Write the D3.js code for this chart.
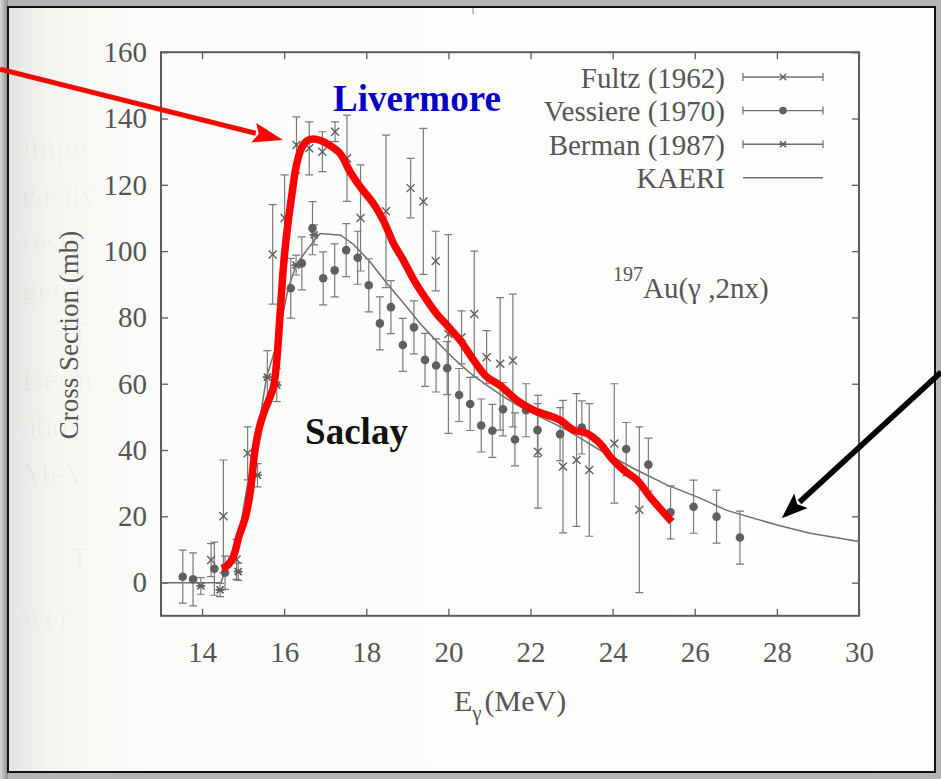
<!DOCTYPE html>
<html>
<head>
<meta charset="utf-8">
<script src="https://cdn.jsdelivr.net/npm/d3@7"></script>
<style>
  html, body { margin: 0; padding: 0; background: #b0b0b0; }
  svg { display: block; }
</style>
</head>
<body>
<svg id="chart" width="941" height="779"></svg>
<script>
// ---- axis ticks ----
const xTicks = [14, 16, 18, 20, 22, 24, 26, 28, 30];
const yTicks = [0, 20, 40, 60, 80, 100, 120, 140, 160];

// ---- measured cross sections: [E (MeV), sigma (mb), error (mb)] ----
const fultz1962 = [
  [14.22, 6.8, 5], [14.52, 20, 17], [14.84, 7, 6], [15.11, 39, 8],
  [15.72, 99, 15], [16.01, 110, 13], [16.30, 132, 8.5], [16.61, 131, 8],
  [16.93, 130, 6], [17.24, 136, 3], [17.53, 128, 13], [17.86, 110, 16],
  [18.48, 112, 23], [19.08, 119, 9], [19.39, 115, 22], [19.69, 97, 9],
  [20.00, 75, 30], [20.32, 74, 8], [20.63, 81, 19], [20.93, 68, 8],
  [21.26, 66, 20], [21.57, 67, 20], [22.18, 39.5, 17], [22.79, 35, 20],
  [23.12, 37, 20], [23.43, 34, 20], [24.04, 42, 18], [24.65, 22, 25]
];
const vessiere1970 = [
  [13.53, 1.8, 8], [13.78, 1.0, 8], [14.30, 4.2, 8], [14.56, 3.0, 5],
  [16.16, 88.8, 9], [16.43, 96.3, 8], [16.69, 106.9, 8], [16.95, 91.8, 8],
  [17.23, 94.2, 8], [17.51, 100.3, 8], [17.79, 98.0, 8], [18.06, 89.7, 8],
  [18.33, 78.2, 8], [18.60, 83.1, 8], [18.89, 71.7, 8], [19.16, 77.0, 8],
  [19.43, 67.2, 8], [19.70, 65.5, 8], [19.97, 64.7, 8], [20.26, 56.6, 8],
  [20.53, 53.9, 8], [20.80, 47.4, 8], [21.07, 45.8, 8], [21.33, 52.3, 8],
  [21.62, 43.2, 8], [21.89, 52.0, 8], [22.17, 46.0, 8], [22.72, 44.8, 8],
  [23.25, 46.8, 8], [24.33, 40.3, 8], [24.87, 35.6, 8], [25.41, 21.2, 8],
  [25.97, 22.9, 8], [26.53, 19.9, 8], [27.10, 13.6, 8]
];
const berman1987 = [
  [13.97, -1.0, 2.5], [14.44, -2.2, 2], [14.88, 3.3, 2.6], [15.35, 32.4, 3.5],
  [15.59, 62, 8], [15.82, 59.6, 5], [16.29, 95.8, 3], [16.73, 104.9, 3]
];

// ---- evaluated curve: [E, sigma] ----
const kaeri = [
  [13.0, 0], [14.46, 0], [14.56, 3.5], [14.84, 10], [15.10, 29], [15.33, 43],
  [15.57, 62], [15.82, 72], [16.10, 89], [16.30, 96], [16.55, 100.3],
  [16.87, 105.3], [17.38, 104.8], [17.69, 102], [18.09, 96.8], [18.50, 90.3],
  [18.91, 84.3], [19.31, 78.2], [19.72, 72.7], [20.12, 67.7], [20.53, 63.2],
  [20.93, 59.6], [21.34, 56.1], [21.74, 53.1], [22.06, 51.1], [22.88, 46.1],
  [23.69, 40.0], [24.50, 34.5], [25.32, 29.5], [26.13, 25.5], [26.78, 21.8],
  [28.0, 17.4], [28.81, 14.9], [30.0, 12.4]
];

// ---- Livermore overlay curve: [E, sigma] ----
const livermore = [
  [14.48, 4.3], [14.60, 5.0], [14.76, 7.8], [14.90, 14], [15.05, 19.5],
  [15.17, 27], [15.29, 40], [15.40, 47], [15.50, 51], [15.64, 55.5],
  [15.74, 59], [15.82, 67], [15.90, 81], [15.98, 95], [16.06, 105],
  [16.18, 116.4], [16.30, 126], [16.42, 131], [16.55, 133.2], [16.70, 133.8],
  [16.90, 133.3], [17.10, 132], [17.36, 129.5], [17.60, 124], [17.85, 119.4],
  [18.17, 114.4], [18.41, 109.4], [18.66, 102.4], [18.90, 97.3], [19.15, 91.5],
  [19.47, 85.3], [19.72, 81], [19.96, 77.7], [20.28, 73.2], [20.61, 67.2],
  [20.93, 62.1], [21.26, 59.5], [21.66, 55.1], [22.06, 52.1], [22.71, 49.1],
  [23.04, 46.1], [23.36, 45.1], [23.69, 42.0], [23.94, 38.0], [24.26, 34.0],
  [24.59, 31.0], [24.91, 25.9], [25.44, 18.4]
];

// ---- annotation arrows: [tailE, tailSigma, tipE, tipSigma] ----
const redArrow = [9.08, 154.9, 15.97, 133.5];
const blackArrow = [32.0, 63.5, 28.12, 19.4];

// ---- faint text showing through from the page behind ----
const ghostWords = ["impo", "easily", "resu", "gene", "T", "Berm", "abov", "MeV", "T", "wer"];
const ghostRows = [158, 205, 253, 300, 345, 390, 437, 485, 570, 628];
const ghostIndent = [22, 22, 22, 22, 70, 22, 22, 22, 70, 22];

const W = 941, H = 779;
const svg = d3.select("#chart");
const serif = "'Liberation Serif', 'Times New Roman', serif";

// ---- page and scanner frame ----
const defs = svg.append("defs");
const sideGrad = defs.append("linearGradient").attr("id", "side").attr("x1", 0).attr("x2", 1);
sideGrad.append("stop").attr("offset", "0").attr("stop-color", "#d8d8d8");
sideGrad.append("stop").attr("offset", "1").attr("stop-color", "#8c8c8c");
const pageGrad = defs.append("linearGradient").attr("id", "page").attr("x1", 0).attr("x2", 1);
pageGrad.append("stop").attr("offset", "0").attr("stop-color", "#e3e3e1");
pageGrad.append("stop").attr("offset", "0.05").attr("stop-color", "#f5f5f2");
pageGrad.append("stop").attr("offset", "0.16").attr("stop-color", "#fcfcfa");
pageGrad.append("stop").attr("offset", "1").attr("stop-color", "#fefefd");

svg.append("rect").attr("width", W).attr("height", H).attr("fill", "#b4b4b4");
svg.append("rect").attr("x", 0).attr("y", 0).attr("width", 8).attr("height", H).attr("fill", "url(#side)");
svg.append("rect").attr("x", 8).attr("y", 7).attr("width", 927).attr("height", 765)
  .attr("fill", "url(#page)").attr("stroke", "#111").attr("stroke-width", 2);

svg.append("g").selectAll("text").data(ghostWords).join("text")
  .attr("x", (d, i) => ghostIndent[i]).attr("y", (d, i) => ghostRows[i])
  .attr("font-family", serif).attr("font-size", 32)
  .attr("fill", "#000").attr("fill-opacity", 0.028).text(d => d);

// ---- scales ----
const x = d3.scaleLinear().domain([13, 30]).range([161, 859]);
const y = d3.scaleLinear().domain([-10, 160]).range([615.8, 52.2]);

const ink = "#5c5c5c";
const barInk = "#7a7a7a";

// small stray mark above the frame
svg.append("line").attr("x1", x(20.6)).attr("x2", x(20.6)).attr("y1", 8).attr("y2", 14)
  .attr("stroke", "#888").attr("stroke-width", 1);

// ---- axes with inward ticks on all four sides ----
function styleAxis(g) {
  g.select(".domain").remove();
  g.selectAll(".tick line").attr("stroke", ink).attr("stroke-width", 1.3);
  g.selectAll(".tick text").attr("font-family", serif).attr("font-size", 29).attr("fill", "#555");
}
svg.append("g").attr("transform", `translate(0,${y(-10)})`)
  .call(d3.axisBottom(x).tickValues(xTicks).tickSize(-7).tickPadding(26)).call(styleAxis);
svg.append("g").attr("transform", `translate(0,${y(160)})`)
  .call(d3.axisTop(x).tickValues(xTicks).tickSize(-7).tickFormat("")).call(styleAxis);
svg.append("g").attr("transform", `translate(${x(13)},0)`)
  .call(d3.axisLeft(y).tickValues(yTicks).tickSize(-7).tickPadding(14)).call(styleAxis);
svg.append("g").attr("transform", `translate(${x(30)},0)`)
  .call(d3.axisRight(y).tickValues(yTicks).tickSize(-7).tickFormat("")).call(styleAxis);

svg.append("rect").attr("x", x(13)).attr("y", y(160))
  .attr("width", x(30) - x(13)).attr("height", y(-10) - y(160))
  .attr("fill", "none").attr("stroke", ink).attr("stroke-width", 2);

// ---- axis titles ----
const xt = svg.append("text").attr("x", (x(13) + x(30)) / 2).attr("y", 711)
  .attr("text-anchor", "middle").attr("font-family", serif).attr("font-size", 30).attr("fill", "#555");
xt.append("tspan").text("E");
xt.append("tspan").attr("font-size", 21).attr("dy", 9).text("γ");
xt.append("tspan").attr("dy", -9).attr("dx", 3).text("(MeV)");

svg.append("text").attr("transform", `translate(78,${(y(-10) + y(160)) / 2 + 1}) rotate(-90)`)
  .attr("text-anchor", "middle").attr("font-family", serif).attr("font-size", 27).attr("fill", "#555")
  .text("Cross Section (mb)");

// ---- markers ----
const crossPath = r => `M${-r},${-r}L${r},${r}M${-r},${r}L${r},${-r}`;
const starPath = r => crossPath(r) + `M${-r - 1},0L${r + 1},0`;

function drawBars(g, data) {
  const b = g.append("g").attr("stroke", barInk).attr("stroke-width", 1.2).attr("fill", "none");
  b.selectAll("path").data(data).join("path")
    .attr("d", d => {
      const cx = x(d[0]), lo = y(d[1] - d[2]), hi = y(d[1] + d[2]);
      return `M${cx},${lo}L${cx},${hi}M${cx - 4},${lo}L${cx + 4},${lo}M${cx - 4},${hi}L${cx + 4},${hi}`;
    });
}

const plot = svg.append("g");

// evaluated curve
plot.append("path").datum(kaeri)
  .attr("d", d3.line().x(d => x(d[0])).y(d => y(d[1])))
  .attr("fill", "none").attr("stroke", "#6e6e6e").attr("stroke-width", 1.5);

drawBars(plot, fultz1962);
drawBars(plot, vessiere1970);
drawBars(plot, berman1987);

plot.append("g").selectAll("path").data(fultz1962).join("path")
  .attr("transform", d => `translate(${x(d[0])},${y(d[1])})`)
  .attr("d", crossPath(4)).attr("stroke", "#5e5e5e").attr("stroke-width", 1.4).attr("fill", "none");
plot.append("g").selectAll("path").data(berman1987).join("path")
  .attr("transform", d => `translate(${x(d[0])},${y(d[1])})`)
  .attr("d", starPath(3.5)).attr("stroke", "#5e5e5e").attr("stroke-width", 1.7).attr("fill", "none");
plot.append("g").selectAll("circle").data(vessiere1970).join("circle")
  .attr("cx", d => x(d[0])).attr("cy", d => y(d[1])).attr("r", 4.3).attr("fill", "#5f5f5f");

// ---- legend ----
const legendRows = [
  { label: "Fultz (1962)", mark: "cross", bars: true },
  { label: "Vessiere (1970)", mark: "dot", bars: true },
  { label: "Berman (1987)", mark: "star", bars: true },
  { label: "KAERI", mark: "none", bars: false }
];
const lg = svg.append("g");
legendRows.forEach((r, i) => {
  const base = 87.5 + i * 33.6, mid = base - 10.5;
  lg.append("text").attr("x", 725).attr("y", base).attr("text-anchor", "end")
    .attr("font-family", serif).attr("font-size", 29).attr("fill", "#555").text(r.label);
  lg.append("line").attr("x1", 743).attr("x2", 823).attr("y1", mid).attr("y2", mid)
    .attr("stroke", "#6e6e6e").attr("stroke-width", 1.4);
  if (r.bars) {
    [743, 823].forEach(cx => lg.append("line").attr("x1", cx).attr("x2", cx)
      .attr("y1", mid - 4).attr("y2", mid + 4).attr("stroke", "#6e6e6e").attr("stroke-width", 1.2));
  }
  if (r.mark === "cross") lg.append("path").attr("transform", `translate(783,${mid})`)
    .attr("d", crossPath(3.2)).attr("stroke", "#5e5e5e").attr("stroke-width", 1.3);
  if (r.mark === "star") lg.append("path").attr("transform", `translate(783,${mid})`)
    .attr("d", starPath(3)).attr("stroke", "#5e5e5e").attr("stroke-width", 1.6);
  if (r.mark === "dot") lg.append("circle").attr("cx", 783).attr("cy", mid).attr("r", 3.8).attr("fill", "#5f5f5f");
});

// reaction label
const rl = svg.append("text").attr("x", 613).attr("y", 298)
  .attr("font-family", serif).attr("font-size", 29).attr("fill", "#555");
rl.append("tspan").attr("font-size", 20).attr("dy", -17).text("197");
rl.append("tspan").attr("dy", 17).text("Au(γ ,2nx)");

// ---- Livermore overlay ----
svg.append("path").datum(livermore)
  .attr("d", d3.line().curve(d3.curveCatmullRom.alpha(0.5)).x(d => x(d[0])).y(d => y(d[1])))
  .attr("fill", "none").attr("stroke", "#ff0000").attr("stroke-width", 7.5)
  .attr("stroke-linecap", "butt").attr("stroke-linejoin", "round");

// ---- arrows ----
function arrow(a, color, width, headLen, headHalf) {
  const x0 = x(a[0]), y0 = y(a[1]), x1 = x(a[2]), y1 = y(a[3]);
  const dx = x1 - x0, dy = y1 - y0, L = Math.hypot(dx, dy);
  const ux = dx / L, uy = dy / L, px = -uy, py = ux;
  const bx = x1 - ux * headLen, by = y1 - uy * headLen;
  svg.append("line").attr("x1", x0).attr("y1", y0).attr("x2", bx + ux * 2).attr("y2", by + uy * 2)
    .attr("stroke", color).attr("stroke-width", width);
  svg.append("path")
    .attr("d", `M${x1},${y1}L${bx + px * headHalf},${by + py * headHalf}L${bx + ux * 5},${by + uy * 5}L${bx - px * headHalf},${by - py * headHalf}Z`)
    .attr("fill", color);
}
arrow(redArrow, "#ff0000", 5, 30, 10);
arrow(blackArrow, "#000000", 5.5, 26, 10);

// ---- facility labels ----
svg.append("text").attr("x", x(17.19)).attr("y", y(142.3))
  .attr("font-family", serif).attr("font-size", 37).attr("font-weight", "bold")
  .attr("fill", "#0000c8").text("Livermore");
svg.append("text").attr("x", x(16.51)).attr("y", y(41.8))
  .attr("font-family", serif).attr("font-size", 37).attr("font-weight", "bold")
  .attr("fill", "#111").text("Saclay");
</script>
</body>
</html>
